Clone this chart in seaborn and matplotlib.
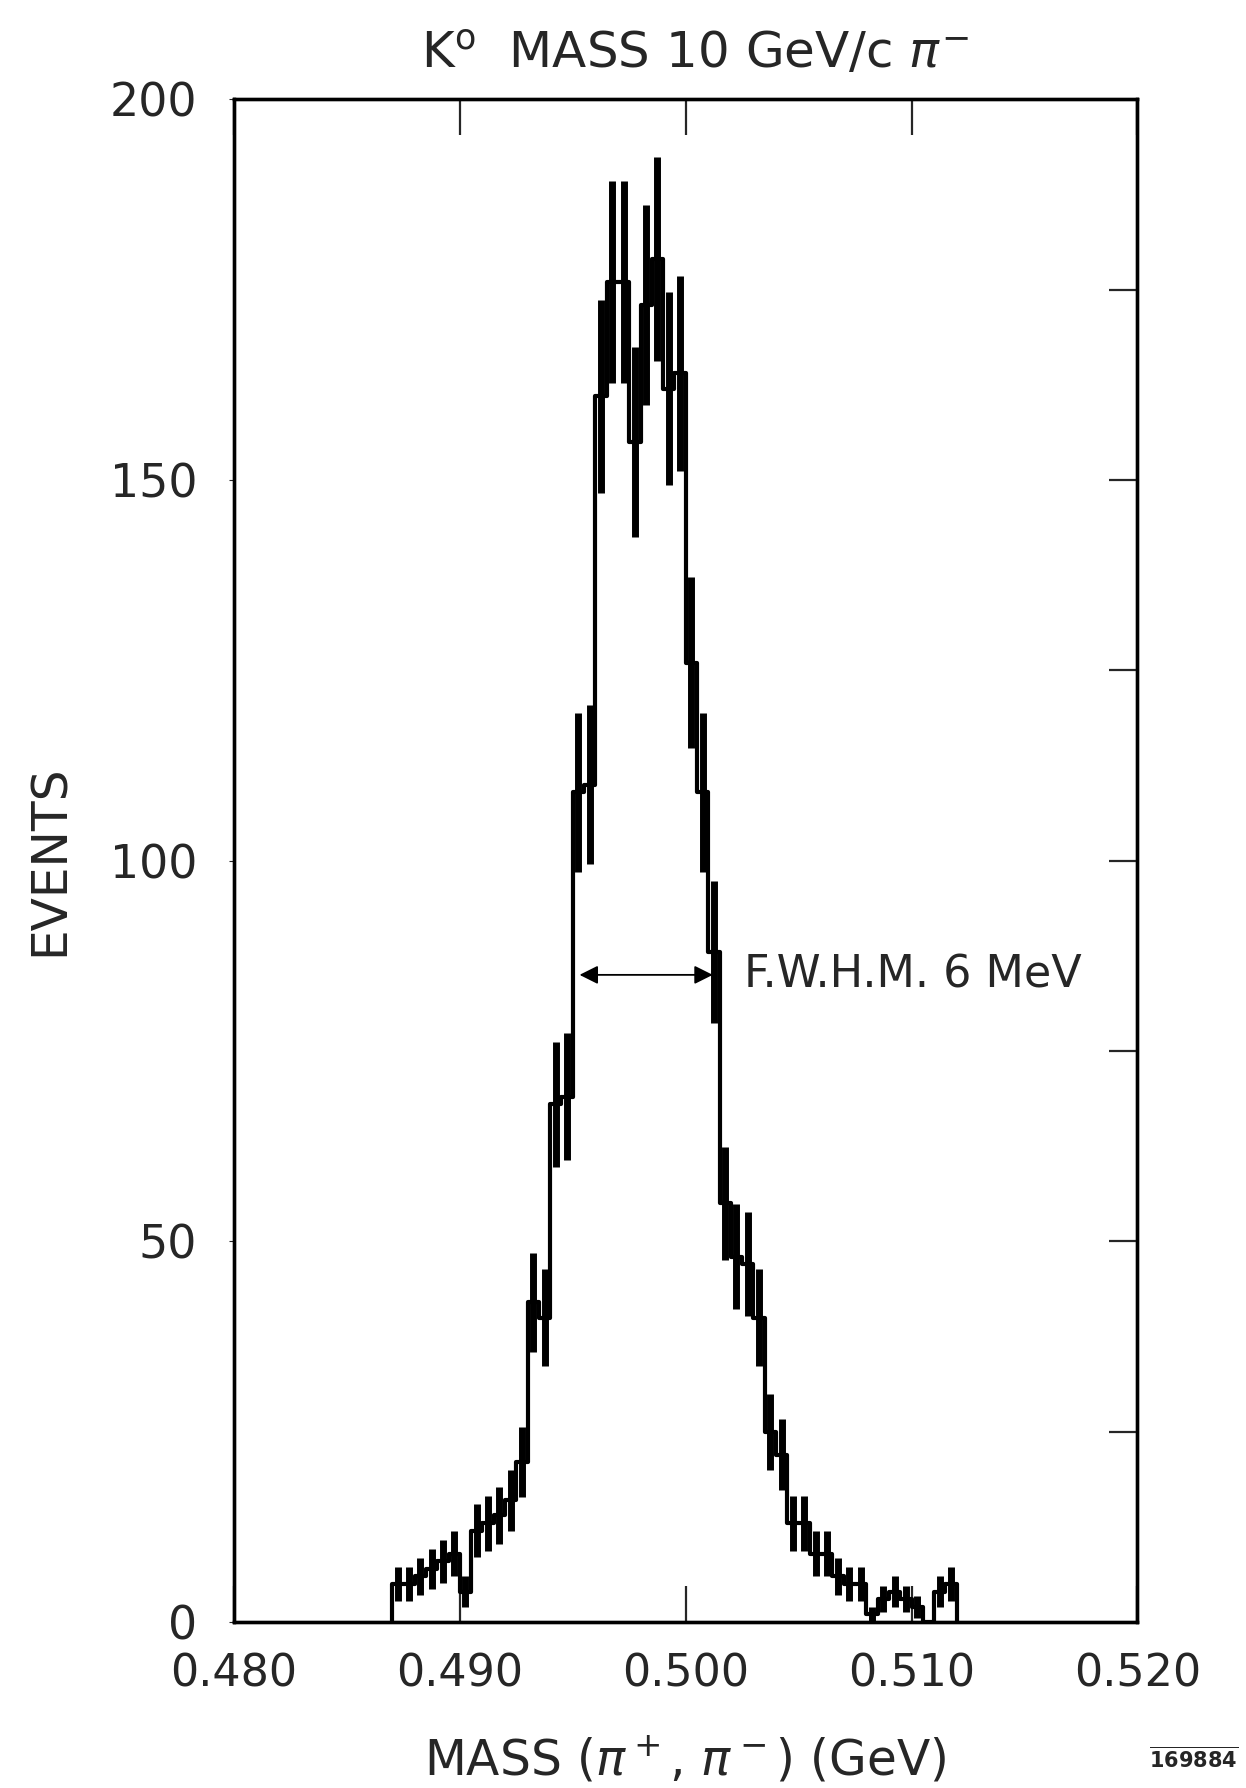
import numpy as np
import pandas as pd
import seaborn as sns
import matplotlib.pyplot as plt

# bin edges of the K0 mass histogram (GeV), 0.5 MeV wide
bin_lo = 0.487
bin_width = 0.0005
events = [5, 5, 6, 7, 8, 9, 4, 12, 13, 14,
          16, 21, 42, 40, 68, 69, 109, 110, 161, 176,
          176, 155, 173, 179, 162, 164, 126, 109, 88, 55,
          48, 47, 40, 25, 22, 13, 13, 9, 9, 6,
          5, 5, 1, 3, 4, 3, 2, 0, 4, 5]
x_ticks = [0.480, 0.490, 0.500, 0.510, 0.520]
x_ticklabels = ['0.480', '0.490', '0.500', '0.510', '0.520']
y_ticks = [0, 50, 100, 150, 200]
right_ticks = [25, 50, 75, 100, 125, 150, 175]
fwhm_lo, fwhm_hi, fwhm_y = 0.4953, 0.5012, 85

edges = bin_lo + bin_width * np.arange(len(events) + 1)
df = pd.DataFrame({'mass': (edges[:-1] + edges[1:]) / 2, 'events': events})

sns.set_style("white")
plt.rcParams['font.family'] = ['DejaVu Sans']
plt.rcParams['mathtext.fontset'] = 'dejavusans'

fig = plt.figure(figsize=(12.46, 17.88), dpi=100)
ax = fig.add_axes([0.1878, 0.0928, 0.7250, 0.8517])

sns.histplot(data=df, x='mass', weights='events', bins=edges.tolist(), element='step',
             fill=False, color='black', linewidth=3, ax=ax)
# close the outline down to zero at both ends
ax.vlines([edges[0], edges[-1]], 0, [events[0], events[-1]], color='black', lw=3)
ax.errorbar(df['mass'], df['events'], yerr=np.sqrt(df['events']), fmt='none',
            ecolor='black', elinewidth=5, capsize=0)

ax.annotate('', xy=(fwhm_lo, fwhm_y), xytext=(fwhm_hi, fwhm_y),
            arrowprops=dict(arrowstyle='<|-|>', color='black', lw=1.3,
                            mutation_scale=28, shrinkA=0, shrinkB=0))
ax.text(0.5026, fwhm_y, 'F.W.H.M. 6 MeV', fontsize=32, va='center', ha='left')

ax.set_xlim(0.480, 0.520)
ax.set_ylim(0, 200)
ax.set_xticks(x_ticks)
ax.set_xticklabels(x_ticklabels)
ax.set_yticks(y_ticks)
ax.tick_params(axis='x', direction='in', top=True, bottom=True, length=26,
               width=1.6, labelsize=32, pad=22)
ax.tick_params(axis='y', left=False, labelsize=33, pad=23)

ax2 = ax.twinx()
ax2.set_ylim(0, 200)
ax2.set_yticks(right_ticks)
ax2.tick_params(axis='y', direction='in', length=20, width=1.6, labelright=False)

for a in (ax, ax2):
    for s in a.spines.values():
        s.set_linewidth(2.4)
        s.set_color('black')

ax.set_title(r'K$^{\mathrm{o}}$  MASS 10 GeV/c $\pi^{-}$', fontsize=36, pad=22, x=0.51)
ax.set_xlabel(r'MASS ($\pi^+$, $\pi^-$) (GeV)', fontsize=35, labelpad=28)
ax.set_ylabel('EVENTS', fontsize=35, labelpad=26)

fig.text(0.958, 0.011, r'$\overline{\mathbf{169884}}$', fontsize=15, ha='center')

plt.savefig('out.png', dpi=100)
